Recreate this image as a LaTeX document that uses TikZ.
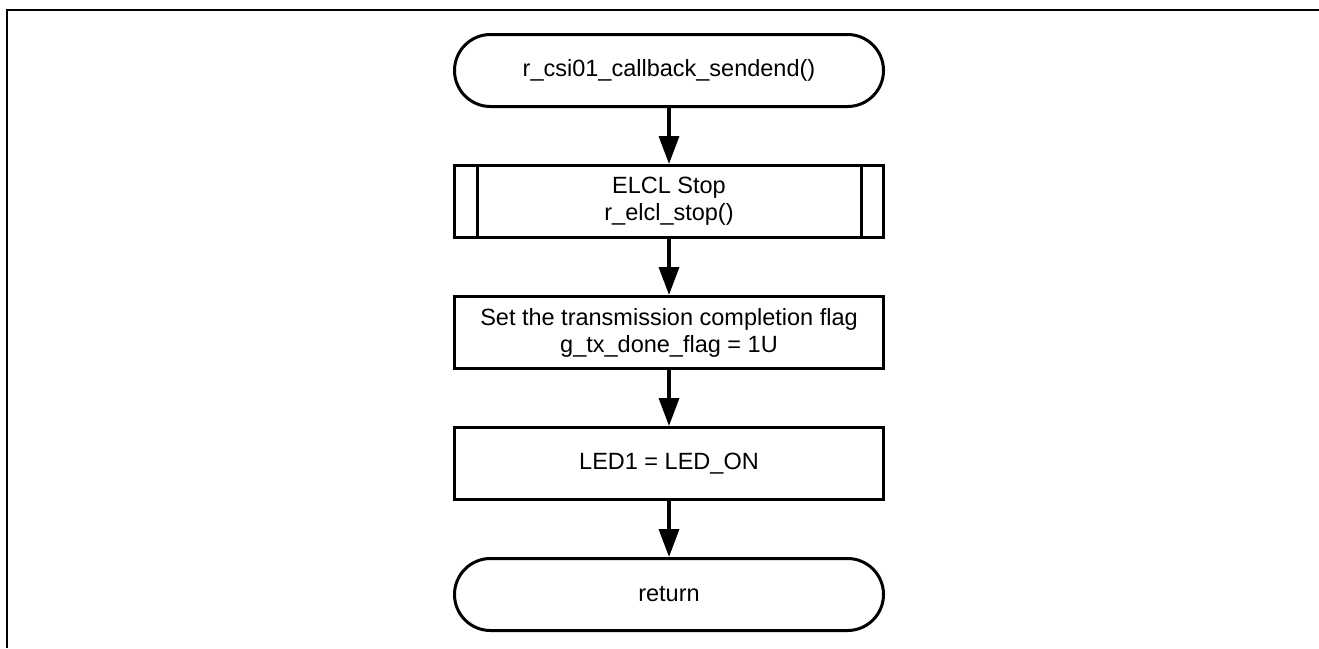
\documentclass[tikz,border=0pt]{standalone}
\usepackage{fontspec}
\setmainfont{Liberation Sans}
\usetikzlibrary{positioning,arrows.meta}
\begin{document}
\begin{tikzpicture}[x=1pt, y=1pt, node distance=56pt,
    every node/.style = {draw, line width=3pt, align=center,
      minimum width=429pt, minimum height=72pt,
      font=\fontsize{23.5}{27}\selectfont},
    terminal/.style = {rounded corners=36pt},
    flowarrow/.style = {line width=3.5pt, -{Triangle[width=20pt,length=28pt]}}]
    \useasboundingbox (0,0) rectangle (1319,-648);
    \draw[line width=2pt] (7,-648) -- (7,-10) -- (1319,-10);
    \node[terminal] (start) at (669,-70.5) {r\_csi01\_callback\_sendend()};
    \node[below=of start] (elclstop) {ELCL Stop \\ r\_elcl\_stop()};
    \node[below=of elclstop] (setflag) {Set the transmission completion flag \\ g\_tx\_done\_flag = 1U};
    \node[below=of setflag] (ledon) {LED1 = LED\_ON};
    \node[terminal, below=of ledon] (ret) {return};
    % side bars of the subroutine box
    \draw[line width=3pt] ([xshift=24pt]elclstop.north west) -- ([xshift=24pt]elclstop.south west);
    \draw[line width=3pt] ([xshift=-24pt]elclstop.north east) -- ([xshift=-24pt]elclstop.south east);
    \draw[flowarrow] (start) -- (elclstop);
    \draw[flowarrow] (elclstop) -- (setflag);
    \draw[flowarrow] (setflag) -- (ledon);
    \draw[flowarrow] (ledon) -- (ret);
\end{tikzpicture}
\end{document}
